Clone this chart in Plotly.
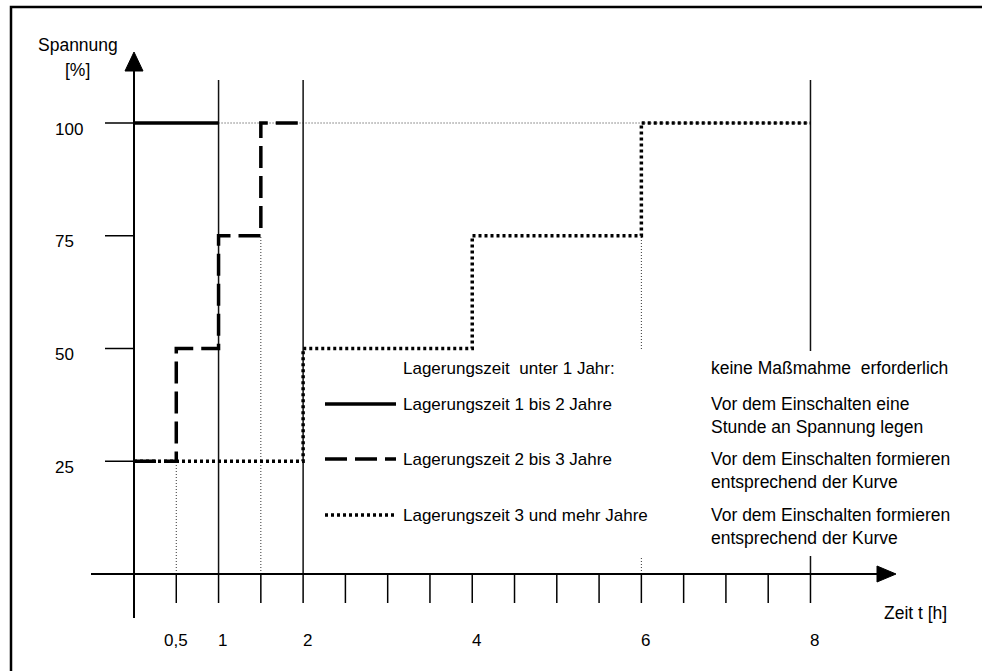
import plotly.graph_objects as go

# ---------------- data ----------------
x_ticks = [0.5, 1, 1.5, 2, 2.5, 3, 3.5, 4, 4.5, 5, 5.5, 6, 6.5, 7, 7.5, 8]
x_tick_labels = {0.5: "0,5", 1: "1", 2: "2", 4: "4", 6: "6", 8: "8"}
y_ticks = [25, 50, 75, 100]
y_tick_labels = ["25", "50", "75", "100"]

# curve "Lagerungszeit 1 bis 2 Jahre" (solid)
solid_x = [0, 1]
solid_y = [100, 100]
# curve "Lagerungszeit 2 bis 3 Jahre" (dashed), step after
dash_x = [0, 0.5, 1, 1.5, 2]
dash_y = [25, 50, 75, 100, 100]
# curve "Lagerungszeit 3 und mehr Jahre" (dotted), step after
dot_x = [0, 2, 4, 6, 8]
dot_y = [25, 50, 75, 100, 100]

solid_grid_x = [1, 2, 8]
legend_rows = [
    ("Lagerungszeit  unter 1 Jahr:", ["keine Maßmahme  erforderlich"], None),
    ("Lagerungszeit 1 bis 2 Jahre", ["Vor dem Einschalten eine", "Stunde an Spannung legen"], "solid"),
    ("Lagerungszeit 2 bis 3 Jahre", ["Vor dem Einschalten formieren", "entsprechend der Kurve"], "22px,8px"),
    ("Lagerungszeit 3 und mehr Jahre", ["Vor dem Einschalten formieren", "entsprechend der Kurve"], "3px,3px"),
]

# ---------------- pixel <-> data helpers (layout only) ----------------
W, H = 982, 671
X0PX, XS = 134.0, 84.56     # pixel of x=0, px per hour
Y0PX, YS = 574.0, 4.51      # pixel of y=0, px per percent


def px2x(p):
    return (p - X0PX) / XS


def px2y(p):
    return (Y0PX - p) / YS


FONT = "Liberation Sans, Arial, sans-serif"
BLK = "#000000"

fig = go.Figure()

shapes = []
annots = []

# outer frame
shapes.append(dict(type="rect", xref="paper", yref="paper",
                   x0=11 / W, x1=1.05, y0=-0.05, y1=1 - 7 / H,
                   line=dict(color=BLK, width=2.5), layer="below"))

# thin dotted helper lines
thin = dict(color="#333333", width=1, dash="1px,2px")
shapes.append(dict(type="line", x0=1, x1=8, y0=100, y1=100, line=thin, layer="below"))
shapes.append(dict(type="line", x0=0.5, x1=0.5, y0=0, y1=25, line=thin, layer="below"))
shapes.append(dict(type="line", x0=1.5, x1=1.5, y0=0, y1=75, line=thin, layer="below"))
shapes.append(dict(type="line", x0=6, x1=6, y0=0, y1=75, line=thin, layer="below"))

# solid vertical grid lines
for gx in solid_grid_x:
    shapes.append(dict(type="line", x0=gx, x1=gx, y0=0, y1=px2y(80),
                       line=dict(color="#111111", width=1.5), layer="below"))

# white legend background covering lines
shapes.append(dict(type="rect", x0=px2x(312), x1=px2x(962), y0=px2y(556), y1=px2y(351),
                   fillcolor="white", line=dict(width=0), layer="below"))

# axes
shapes.append(dict(type="line", x0=px2x(91), x1=px2x(880), y0=0, y1=0,
                   line=dict(color=BLK, width=2), layer="below"))
shapes.append(dict(type="line", x0=0, x1=0, y0=px2y(618), y1=px2y(66),
                   line=dict(color=BLK, width=2), layer="below"))
# arrow heads
shapes.append(dict(type="path",
                   path=f"M {px2x(877)},{px2y(566)} L {px2x(896)},{px2y(574)} L {px2x(877)},{px2y(582)} Z",
                   fillcolor=BLK, line=dict(color=BLK, width=1), layer="above"))
shapes.append(dict(type="path",
                   path=f"M {px2x(125)},{px2y(71)} L {px2x(134)},{px2y(52)} L {px2x(143)},{px2y(71)} Z",
                   fillcolor=BLK, line=dict(color=BLK, width=1), layer="above"))

# x ticks
for tx in x_ticks:
    shapes.append(dict(type="line", x0=tx, x1=tx, y0=0, y1=px2y(603),
                       line=dict(color=BLK, width=1.5), layer="below"))
# y ticks
for ty in y_ticks:
    shapes.append(dict(type="line", x0=px2x(105), x1=0, y0=ty, y1=ty,
                       line=dict(color=BLK, width=1.5), layer="below"))

# curves
fig.add_trace(go.Scatter(x=solid_x, y=solid_y, mode="lines",
                         line=dict(color=BLK, width=3.5), showlegend=False, hoverinfo="skip"))
fig.add_trace(go.Scatter(x=dash_x, y=dash_y, mode="lines", line_shape="hv",
                         line=dict(color=BLK, width=3.5, dash="22px,8px"),
                         showlegend=False, hoverinfo="skip"))
fig.add_trace(go.Scatter(x=dot_x, y=dot_y, mode="lines", line_shape="hv",
                         line=dict(color=BLK, width=3.5, dash="3px,3px"),
                         showlegend=False, hoverinfo="skip"))

# tick labels
for tx, lab in x_tick_labels.items():
    annots.append(dict(x=tx, y=px2y(640), text=lab, showarrow=False,
                       xanchor="center", yanchor="middle",
                       xshift=0 if lab == "0,5" else 4,
                       font=dict(family=FONT, size=17, color=BLK)))
for ty, lab in zip(y_ticks, y_tick_labels):
    annots.append(dict(x=px2x(53), y=ty, text=lab, showarrow=False,
                       xanchor="left", yanchor="middle", yshift=-6,
                       font=dict(family=FONT, size=17, color=BLK)))

# axis titles
annots.append(dict(x=px2x(78), y=px2y(45), text="Spannung", showarrow=False,
                   xanchor="center", yanchor="middle", font=dict(family=FONT, size=17.5, color=BLK)))
annots.append(dict(x=px2x(77), y=px2y(70), text="[%]", showarrow=False,
                   xanchor="center", yanchor="middle", font=dict(family=FONT, size=17.5, color=BLK)))
annots.append(dict(x=px2x(882), y=px2y(613), text="Zeit t [h]", showarrow=False,
                   xanchor="left", yanchor="middle", font=dict(family=FONT, size=17.5, color=BLK)))

# legend block
row_y = [368, 404, 459, 515]
for (left, right, dash), ry in zip(legend_rows, row_y):
    annots.append(dict(x=px2x(401), y=px2y(ry), text=left, showarrow=False,
                       xanchor="left", yanchor="middle", font=dict(family=FONT, size=17, color=BLK)))
    for i, rt in enumerate(right):
        annots.append(dict(x=px2x(709), y=px2y(ry + 23 * i), text=rt, showarrow=False,
                           xanchor="left", yanchor="middle", font=dict(family=FONT, size=17.5, color=BLK)))
    if dash is not None:
        shapes.append(dict(type="line", x0=px2x(325), x1=px2x(396), y0=px2y(ry), y1=px2y(ry),
                           line=dict(color=BLK, width=3.5, dash=dash), layer="above"))

fig.update_layout(
    width=W, height=H,
    margin=dict(l=0, r=0, t=0, b=0),
    paper_bgcolor="white", plot_bgcolor="white",
    xaxis=dict(range=[px2x(0), px2x(W)], visible=False, fixedrange=True),
    yaxis=dict(range=[px2y(H), px2y(0)], visible=False, fixedrange=True),
    shapes=shapes, annotations=annots,
    showlegend=False,
)

fig.write_html("out.html", config={"displayModeBar": False},
               post_script="document.body.style.margin='0px';document.body.style.overflow='hidden';")
